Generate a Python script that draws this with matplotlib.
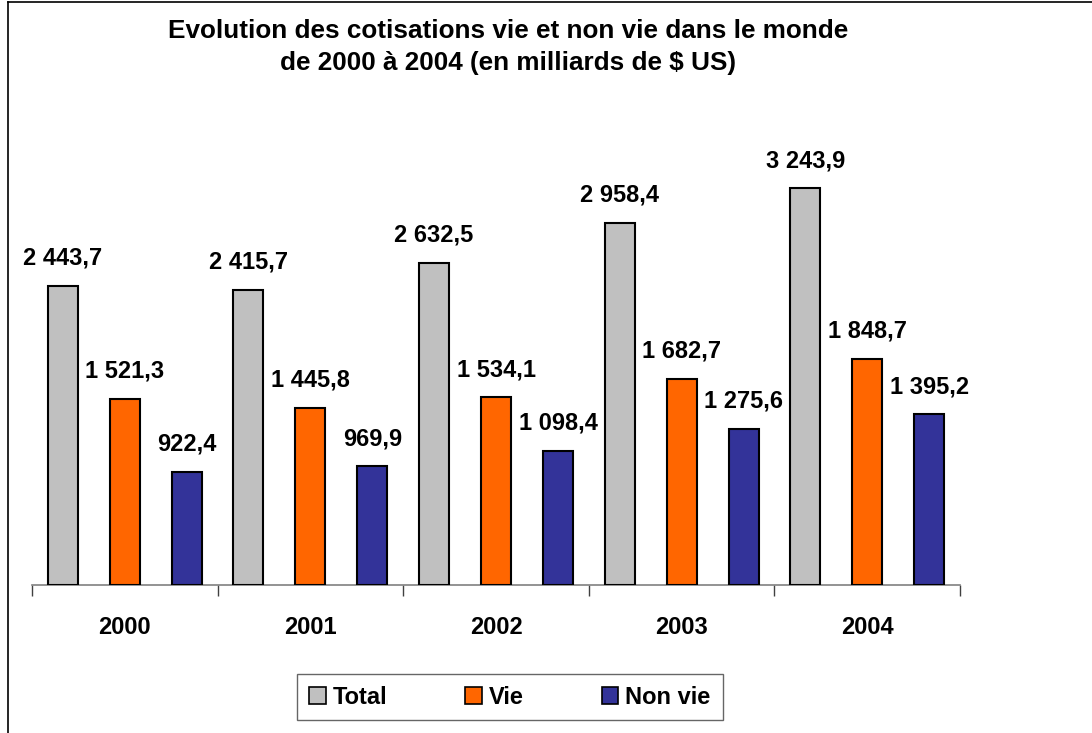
import matplotlib.pyplot as plt
from matplotlib.lines import Line2D
import numpy as np

plt.rcParams['font.family'] = ['Liberation Sans', 'DejaVu Sans']

years = ['2000', '2001', '2002', '2003', '2004']
series_names = ['Total', 'Vie', 'Non vie']
total = [2443.7, 2415.7, 2632.5, 2958.4, 3243.9]
vie = [1521.3, 1445.8, 1534.1, 1682.7, 1848.7]
non_vie = [922.4, 969.9, 1098.4, 1275.6, 1395.2]
colors = ['#C0C0C0', '#FF6600', '#333399']


def fmt(v):
    # French style: space for thousands, comma for decimals
    s = f'{v:,.1f}'.replace(',', ' ').replace('.', ',')
    return s


fig = plt.figure(figsize=(10.92, 7.33), dpi=100)
ax = fig.add_axes([32 / 1092, 0.2019, (960 - 32) / 1092, 0.5839])

x = np.arange(len(years))
offsets = [-0.334, 0.0, 0.334]
width = 0.162
for vals, off, col, name in zip([total, vie, non_vie], offsets, colors, series_names):
    bars = ax.bar(x + off, vals, width, color=col, edgecolor='black', linewidth=1.5,
                  label=name, zorder=3)
    for b, v in zip(bars, vals):
        ax.annotate(fmt(v), (b.get_x() + b.get_width() / 2, v),
                    xytext=(0, 20), textcoords='offset points',
                    ha='center', va='center', fontsize=17, fontweight='bold')

ax.set_xlim(-0.5, len(years) - 0.5)
ax.set_ylim(0, 3500)
ax.set_yticks([])
for s in ['left', 'right', 'top']:
    ax.spines[s].set_visible(False)
ax.spines['bottom'].set_color('#808080')
ax.spines['bottom'].set_linewidth(1.2)
ax.set_xticks(np.arange(len(years) + 1) - 0.5, minor=False)
ax.set_xticklabels([''] * (len(years) + 1))
ax.tick_params(axis='x', length=8, color='#404040', width=1.0, direction='out')
for xi, yr in zip(x, years):
    ax.text(xi, -0.10, yr, transform=ax.get_xaxis_transform(), ha='center', va='center',
            fontsize=17, fontweight='bold')

fig.text(508 / 1092, 1 - 31 / 733, 'Evolution des cotisations vie et non vie dans le monde',
         ha='center', va='center', fontsize=18.8, fontweight='bold')
fig.text(508 / 1092, 1 - 63 / 733, 'de 2000 à 2004 (en milliards de $ US)',
         ha='center', va='center', fontsize=18.8, fontweight='bold')

handles = [plt.Rectangle((0, 0), 1, 1, facecolor=c, edgecolor='black', linewidth=1.2)
           for c in colors]
leg = fig.legend(handles, series_names, loc='center', bbox_to_anchor=(510 / 1092, 1 - 697 / 733),
                 ncol=3, frameon=True, fancybox=False, edgecolor='#404040',
                 prop={'size': 17, 'weight': 'bold'}, handlelength=0.7, handleheight=0.7,
                 handletextpad=0.3, columnspacing=3.3, borderpad=0.5, borderaxespad=0)
leg.get_frame().set_linewidth(1.0)

# outer frame (left and top edges visible)
fig.add_artist(Line2D([8 / 1092, 8 / 1092], [0, 1 - 2 / 733], transform=fig.transFigure,
                      color='black', linewidth=1.2))
fig.add_artist(Line2D([8 / 1092, 1], [1 - 2 / 733, 1 - 2 / 733], transform=fig.transFigure,
                      color='black', linewidth=1.2))

fig.savefig('out.png', dpi=100)
